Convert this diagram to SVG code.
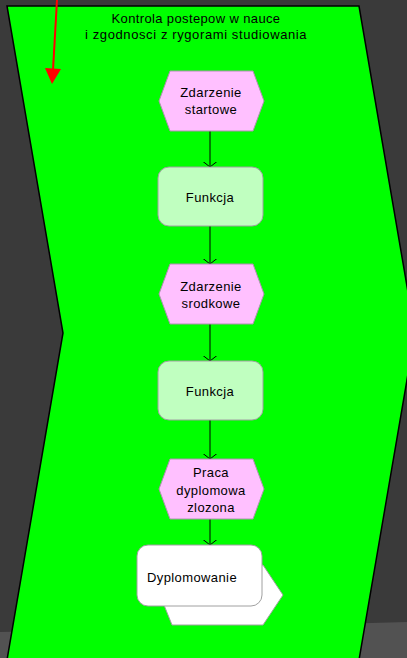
<svg xmlns="http://www.w3.org/2000/svg" width="407" height="658" viewBox="0 0 407 658">
<defs>
<style>
.evt{fill:#ffc0ff;stroke:#b090b0;stroke-width:1}
.fn{fill:#c0ffc0;stroke:#a0a0a0;stroke-width:1}
.t{font-family:"Liberation Sans",Arial,sans-serif;font-size:13px;fill:#000;text-anchor:middle;letter-spacing:0.4px}
.c{stroke:#000;stroke-width:1;fill:none}
</style>
<marker id="v" viewBox="0 0 6 14" refX="5.5" refY="7" markerWidth="6" markerHeight="14" markerUnits="userSpaceOnUse" orient="auto">
<path d="M0,0 L5.5,7 L0,14" fill="none" stroke="#000" stroke-width="1"/>
</marker>
</defs>
<rect x="0" y="0" width="407" height="658" fill="#3a3a3a"/>
<path d="M0,632 Q200,628 407,622 L407,658 L0,658 Z" fill="#525252"/>
<g id="lane">
<polygon points="7,6 359,6 415,333 359,660 7,660 63,333" fill="#00ff00" stroke="#000" stroke-width="1.5"/>
<text class="t" x="196" y="23" textLength="169" lengthAdjust="spacing">Kontrola postepow w nauce</text>
<text class="t" x="196" y="39" textLength="222" lengthAdjust="spacing">i zgodnosci z rygorami studiowania</text>
</g>
<g id="red-arrow">
<line x1="57" y1="0" x2="53" y2="70" stroke="#ff0000" stroke-width="2"/>
<polygon points="45,68 61,69 52,84" fill="#ff0000"/>
</g>
<g id="connectors">
<line class="c" x1="210" y1="131" x2="210" y2="167" marker-end="url(#v)"/>
<line class="c" x1="210" y1="226" x2="210" y2="264" marker-end="url(#v)"/>
<line class="c" x1="210" y1="324" x2="210" y2="361" marker-end="url(#v)"/>
<line class="c" x1="210" y1="420" x2="210" y2="459" marker-end="url(#v)"/>
<line class="c" x1="210" y1="519" x2="210" y2="545" marker-end="url(#v)"/>
</g>
<g id="e1">
<polygon class="evt" points="170,71 253,71 264,101 253,131 170,131 159,101"/>
<text class="t" x="211" y="97">Zdarzenie</text>
<text class="t" x="211" y="114">startowe</text>
</g>
<g id="f1">
<rect class="fn" x="158" y="167" width="105" height="59" rx="11"/>
<text class="t" x="210" y="202">Funkcja</text>
</g>
<g id="e2">
<polygon class="evt" points="170,264 253,264 264,294 253,324 170,324 159,294"/>
<text class="t" x="211" y="291">Zdarzenie</text>
<text class="t" x="211" y="308">srodkowe</text>
</g>
<g id="f2">
<rect class="fn" x="158" y="361" width="105" height="59" rx="11"/>
<text class="t" x="210" y="396">Funkcja</text>
</g>
<g id="e3">
<polygon class="evt" points="170,459 253,459 264,489 253,519 170,519 159,489"/>
<text class="t" x="211" y="477">Praca</text>
<text class="t" x="211" y="495">dyplomowa</text>
<text class="t" x="211" y="512">zlozona</text>
</g>
<g id="dyplomowanie">
<polygon points="168,565 263,565 283,595 263,625 172,625 160,595" fill="#ffffff" stroke="#a0a0a0" stroke-width="1"/>
<rect x="137" y="545" width="125" height="61" rx="11" fill="#ffffff" stroke="#a0a0a0" stroke-width="1"/>
<text class="t" x="192" y="582">Dyplomowanie</text>
</g>
</svg>
